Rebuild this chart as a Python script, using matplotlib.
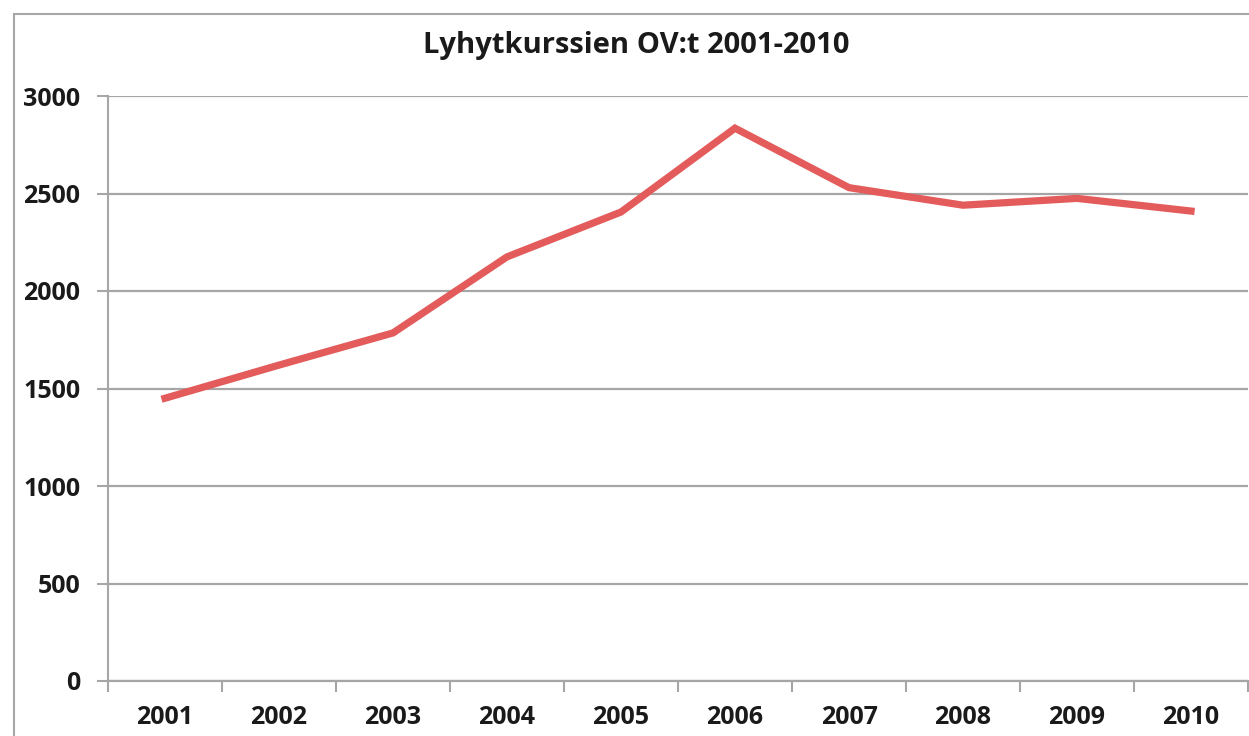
import numpy as np
from matplotlib import pyplot as plt
from matplotlib.patches import Rectangle
from matplotlib.ticker import FixedLocator, NullFormatter

years = ['2001', '2002', '2003', '2004', '2005', '2006', '2007', '2008', '2009', '2010']
ov_counts = [1450, 1620, 1785, 2175, 2405, 2835, 2530, 2440, 2475, 2410]
y_ticks = [0, 500, 1000, 1500, 2000, 2500, 3000]

plt.rcParams['font.family'] = ['Open Sans', 'DejaVu Sans']

W, H = 1249, 736
fig = plt.figure(figsize=(W / 100, H / 100), dpi=100)

# outer chart frame (only top/left edges visible in the crop)
fig.patches.append(Rectangle((14 / W, -0.1), 1.2, 1 - 14 / H + 0.1,
                             transform=fig.transFigure, fill=False,
                             edgecolor='#a6a6a6', linewidth=1.5))

ax = fig.add_axes([108 / W, 1 - 681 / H, (1248 - 108) / W, (681 - 96) / H])
x = np.arange(len(years))
ax.plot(x, ov_counts, color='#e35b5b', linewidth=5.2, solid_joinstyle='miter')

ax.set_xlim(-0.5, len(years) - 0.5)
ax.set_ylim(0, 3000)
ax.set_yticks(y_ticks)
ax.set_yticklabels([str(v) for v in y_ticks], fontsize=18, fontweight='bold', color='#1a1a1a')
ax.yaxis.grid(True, color='#a6a6a6', linewidth=1.6)
ax.set_axisbelow(True)

# category boundaries as major ticks, labels on minor ticks at centres
ax.xaxis.set_major_locator(FixedLocator(np.arange(-0.5, len(years))))
ax.xaxis.set_major_formatter(NullFormatter())
ax.xaxis.set_minor_locator(FixedLocator(x))
ax.set_xticklabels(years, minor=True, fontsize=18, fontweight='bold', color='#1a1a1a')
ax.tick_params(axis='x', which='major', length=8, width=1.5, color='#a6a6a6')
ax.tick_params(axis='x', which='minor', length=0, pad=17)
ax.tick_params(axis='y', length=8, width=1.5, color='#a6a6a6', pad=12)

for s in ['top', 'right']:
    ax.spines[s].set_visible(False)
ax.spines['left'].set_color('#a6a6a6')
ax.spines['left'].set_linewidth(1.5)
ax.spines['bottom'].set_color('#a6a6a6')
ax.spines['bottom'].set_linewidth(1.6)

fig.text(636 / W, 1 - 46 / H, 'Lyhytkurssien OV:t 2001-2010', ha='center', va='center',
         fontsize=21, fontweight='bold', color='#1a1a1a')

fig.savefig('out.png', dpi=100)
